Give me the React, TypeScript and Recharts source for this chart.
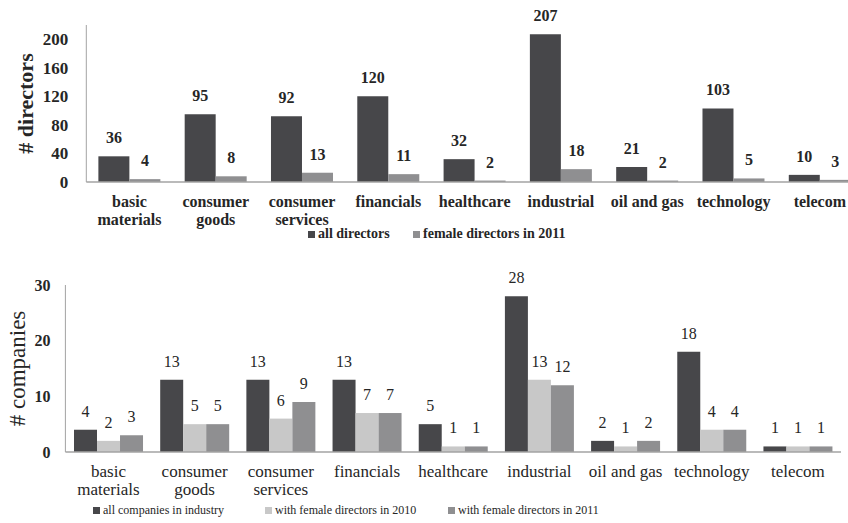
import React from 'react';
import { BarChart, Bar, XAxis, YAxis, LabelList, Text } from 'recharts';

const FONT = '"Liberation Serif", "Times New Roman", serif';

const categories = [
  'basic materials',
  'consumer goods',
  'consumer services',
  'financials',
  'healthcare',
  'industrial',
  'oil and gas',
  'technology',
  'telecom',
];
const allDirectors = [36, 95, 92, 120, 32, 207, 21, 103, 10];
const femaleDirectors2011 = [4, 8, 13, 11, 2, 18, 2, 5, 3];
const allCompanies = [4, 13, 13, 13, 5, 28, 2, 18, 1];
const companiesFemale2010 = [2, 5, 6, 7, 1, 13, 1, 4, 1];
const companiesFemale2011 = [3, 5, 9, 7, 1, 12, 2, 4, 1];
const directorTicks = [0, 40, 80, 120, 160, 200];
const companyTicks = [0, 10, 20, 30];

const topData = categories.map((c, i) => ({
  category: c,
  all: allDirectors[i],
  female: femaleDirectors2011[i],
}));
const bottomData = categories.map((c, i) => ({
  category: c,
  all: allCompanies[i],
  f2010: companiesFemale2010[i],
  f2011: companiesFemale2011[i],
}));

const DARK = '#47474a';
const MID = '#8f8f91';
const LIGHT = '#c8c8c8';
const AXIS = '#a3a3a3';
const TEXT = '#262626';

const makeTick = (fontSize: number, fontWeight: any, dy: number, lineHeight: number) => (props: any) => {
  const { x, y, payload } = props;
  return (
    <Text
      x={x}
      y={y + dy}
      width={82}
      textAnchor="middle"
      verticalAnchor="start"
      lineHeight={lineHeight}
      fill={TEXT}
      fontSize={fontSize}
      fontWeight={fontWeight}
      fontFamily={FONT}
      style={{ fontFamily: FONT, fontSize, fontWeight }}
    >
      {payload.value}
    </Text>
  );
};

const makeYLabel = (text: string, cx: number, fallbackCy: number, fontSize: number, fontWeight: any) => (props: any) => {
  const vb = props && props.viewBox;
  const cy = vb && typeof vb.y === 'number' && typeof vb.height === 'number' ? vb.y + vb.height / 2 : fallbackCy;
  return (
    <text
      x={cx}
      y={cy}
      transform={`rotate(-90 ${cx} ${cy})`}
      textAnchor="middle"
      dominantBaseline="central"
      fill={TEXT}
      style={{ fontFamily: FONT, fontSize, fontWeight }}
    >
      {text}
    </text>
  );
};

const LegendItem = ({ left, top, color, label, fontSize, fontWeight }: any) => (
  <div
    style={{
      position: 'absolute',
      left,
      top: top - 10,
      height: 20,
      display: 'flex',
      alignItems: 'center',
      whiteSpace: 'nowrap',
      fontFamily: FONT,
      fontSize,
      fontWeight,
      color: TEXT,
    }}
  >
    <span style={{ display: 'inline-block', width: 7, height: 7, background: color, marginRight: 3 }} />
    <span>{label}</span>
  </div>
);

const labelStyle = (fontSize: number, fontWeight: any) => ({ fontFamily: FONT, fontSize, fontWeight, fill: TEXT });

export default function App() {
  return (
    <div style={{ position: 'absolute', left: 0, top: 0, width: 848, height: 523, overflow: 'hidden', background: '#fff' }}>
      <div style={{ position: 'absolute', left: 0, top: 0 }}>
        <BarChart
          width={870}
          height={250}
          data={topData}
          margin={{ top: 25, right: 7, left: 0, bottom: 0 }}
          barCategoryGap="14%"
          barGap={0}
        >
          <XAxis
            dataKey="category"
            interval={0}
            tickLine={false}
            tickSize={0}
            tickMargin={0}
            height={68}
            axisLine={{ stroke: AXIS, strokeWidth: 1.5 }}
            tick={makeTick(16, 'bold', 13.6, 18)}
          />
          <YAxis
            width={86.3}
            domain={[0, 220]}
            ticks={directorTicks}
            interval={0}
            tickLine={false}
            tickSize={0}
            tickMargin={18}
            axisLine={{ stroke: AXIS }}
            tick={{ fill: TEXT, fontSize: 17, fontWeight: 'bold', fontFamily: FONT }}
            label={makeYLabel('# directors', 25, 103.5, 22, 'bold')}
          />
          <Bar dataKey="all" fill={DARK} isAnimationActive={false}>
            <LabelList dataKey="all" position="top" offset={13} fill={TEXT} fontSize={16} fontWeight="bold" fontFamily={FONT} style={labelStyle(16, 'bold')} />
          </Bar>
          <Bar dataKey="female" fill={MID} isAnimationActive={false}>
            <LabelList dataKey="female" position="top" offset={13} fill={TEXT} fontSize={16} fontWeight="bold" fontFamily={FONT} style={labelStyle(16, 'bold')} />
          </Bar>
        </BarChart>
      </div>

      <LegendItem left={308} top={234} color={DARK} label="all directors" fontSize={14} fontWeight="bold" />
      <LegendItem left={413} top={234} color={MID} label="female directors in 2011" fontSize={14} fontWeight="bold" />

      <div style={{ position: 'absolute', left: 0, top: 260 }}>
        <BarChart
          width={848}
          height={263}
          data={bottomData}
          margin={{ top: 25, right: 7, left: 0, bottom: 0 }}
          barCategoryGap="10%"
          barGap={0}
        >
          <XAxis
            dataKey="category"
            interval={0}
            tickLine={false}
            tickSize={0}
            tickMargin={0}
            height={71}
            axisLine={{ stroke: AXIS, strokeWidth: 1.5 }}
            tick={makeTick(17, 'normal', 13, 18)}
          />
          <YAxis
            width={65.4}
            domain={[0, 30]}
            ticks={companyTicks}
            interval={0}
            tickLine={false}
            tickSize={0}
            tickMargin={15}
            axisLine={{ stroke: AXIS }}
            tick={{ fill: TEXT, fontSize: 16, fontWeight: 'bold', fontFamily: FONT }}
            label={makeYLabel('# companies', 17, 108.5, 23, 'normal')}
          />
          <Bar dataKey="all" fill={DARK} isAnimationActive={false}>
            <LabelList dataKey="all" position="top" offset={13} fill={TEXT} fontSize={16} fontWeight="normal" fontFamily={FONT} style={labelStyle(16, 'normal')} />
          </Bar>
          <Bar dataKey="f2010" fill={LIGHT} isAnimationActive={false}>
            <LabelList dataKey="f2010" position="top" offset={13} fill={TEXT} fontSize={16} fontWeight="normal" fontFamily={FONT} style={labelStyle(16, 'normal')} />
          </Bar>
          <Bar dataKey="f2011" fill={MID} isAnimationActive={false}>
            <LabelList dataKey="f2011" position="top" offset={13} fill={TEXT} fontSize={16} fontWeight="normal" fontFamily={FONT} style={labelStyle(16, 'normal')} />
          </Bar>
        </BarChart>
      </div>

      <LegendItem left={93} top={510} color={DARK} label="all companies in industry" fontSize={12} fontWeight="normal" />
      <LegendItem left={265} top={510} color={LIGHT} label="with female directors in 2010" fontSize={12} fontWeight="normal" />
      <LegendItem left={448} top={510} color={MID} label="with female directors in 2011" fontSize={12} fontWeight="normal" />
    </div>
  );
}
